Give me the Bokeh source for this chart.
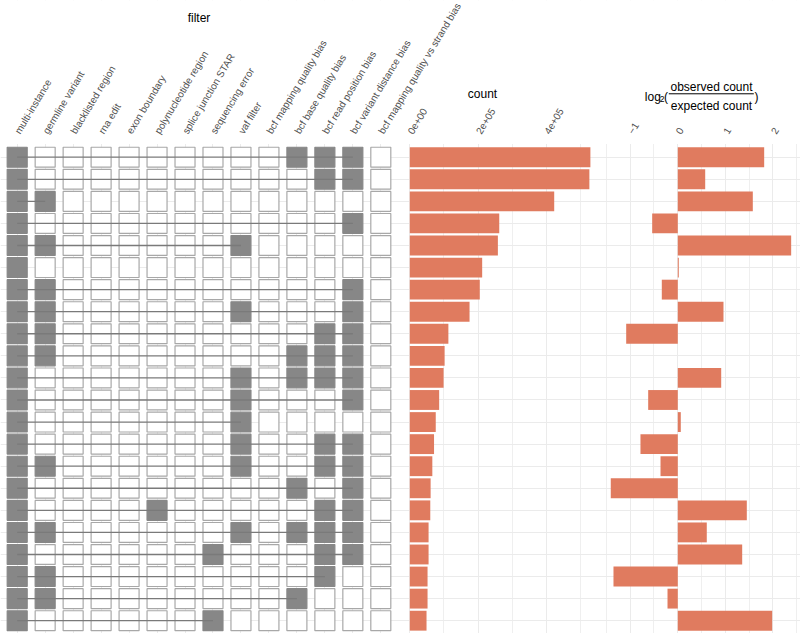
import math
from bokeh.plotting import figure
from bokeh.models import Range1d, LinearAxis, FixedTicker, Grid, Label, Arrow, BoxAnnotation
from bokeh.embed import file_html
from bokeh.resources import INLINE

# ---------------- data ----------------
filters = ["multi-instance", "germline variant", "blacklisted region", "rna edit",
           "exon boundary", "polynucleotide region", "splice junction STAR",
           "sequencing error", "vaf filter", "bcf mapping quality bias",
           "bcf base quality bias", "bcf read position bias",
           "bcf variant distance bias", "bcf mapping quality vs strand bias"]

# one string per intersection (top to bottom), one character per filter
membership = ["10000000001110", "10000000000110", "11000000000000", "10000000000010",
              "11000000100000", "10000000000000", "11000000000010", "11000000100010",
              "11000000000110", "11000000001110", "10000000101110", "10000000100010",
              "10000000100000", "10000000100110", "11000000100110", "10000000001010",
              "10000100000110", "11000000101110", "10000001000110", "11000000000100",
              "11000000001000", "10000001000000"]

counts = [529000, 526000, 423000, 262000, 258000, 212000, 205000, 175000, 113000, 102000,
          99000, 86000, 76000, 71000, 66000, 61000, 60000, 55000, 55000, 52000, 52000, 49000]

log2_ratio = [1.815, 0.576, 1.576, -0.538, 2.382, 0.021, -0.336, 0.96, -1.084, 0.0,
              0.912, -0.622, 0.063, -0.784, -0.363, -1.408, 1.45, 0.609, 1.353, -1.351,
              -0.216, 1.983]

count_ticks = [0, 200000, 400000]
count_minor = [100000, 300000, 500000]
log2_ticks = [-1, 0, 1, 2]
log2_minor = [-1.5, -0.5, 0.5, 1.5, 2.5]

# ---------------- styles ----------------
FONT = "Liberation Sans"
BAR = "#E07B5F"
ON = "#878787"
GRID = "#EBEBEB"

rows = list(range(1, len(membership) + 1))
cols = list(range(1, len(filters) + 1))
panel_top = 0.4

p = figure(width=800, height=633, output_backend="svg", toolbar_location=None,
           x_range=Range1d(0.403, 29.005), y_range=Range1d(22.58, -6.10),
           x_axis_location=None, y_axis_location=None,
           min_border_top=0, min_border_left=0, min_border_right=0, min_border_bottom=0)
p.extra_x_ranges = {"count": Range1d(-1198890, 1144410), "log2": Range1d(-14.229, 2.578)}
p.outline_line_color = None
p.background_fill_color = "white"
p.border_fill_color = "white"
p.center = [r for r in p.center if not isinstance(r, Grid)]

# grids
p.add_layout(Grid(dimension=1, ticker=FixedTicker(ticks=rows),
                  grid_line_color=GRID, grid_line_width=1), "center")
p.add_layout(Grid(dimension=0, ticker=FixedTicker(ticks=cols),
                  grid_line_color=GRID, grid_line_width=1), "center")
p.add_layout(Grid(dimension=0, x_range_name="count",
                  ticker=FixedTicker(ticks=count_ticks, minor_ticks=count_minor),
                  grid_line_color=GRID, grid_line_width=1,
                  minor_grid_line_color=GRID, minor_grid_line_width=0.8), "center")
p.add_layout(Grid(dimension=0, x_range_name="log2",
                  ticker=FixedTicker(ticks=log2_ticks, minor_ticks=log2_minor),
                  grid_line_color=GRID, grid_line_width=1,
                  minor_grid_line_color=GRID, minor_grid_line_width=0.8), "center")
# keep the header area above the panels free of grid lines
p.add_layout(BoxAnnotation(bottom=panel_top, top=p.y_range.end, fill_color="white",
                           fill_alpha=1, line_color=None, level="underlay"), "center")

# matrix tiles
tx, ty, tfill, tline = [], [], [], []
sx0, sx1, sy = [], [], []
for r, m in zip(rows, membership):
    on = [c for c, f in zip(cols, m) if f == "1"]
    sx0.append(min(on)); sx1.append(max(on)); sy.append(r)
    for c, f in zip(cols, m):
        tx.append(c); ty.append(r)
        tfill.append(ON if f == "1" else "white")
        tline.append(ON if f == "1" else "#A8A8A8")
p.rect(x=tx, y=ty, width=0.715, height=0.9, fill_color=tfill, line_color=tline, line_width=1.2)
p.segment(x0=sx0, y0=sy, x1=sx1, y1=sy, line_color="#7A7A7A", line_width=1.3)

# bars
p.hbar(y=rows, left=0, right=counts, height=0.9, x_range_name="count",
       fill_color=BAR, line_color=None)
p.hbar(y=rows, left=0, right=log2_ratio, height=0.9, x_range_name="log2",
       fill_color=BAR, line_color=None)

# axes (all drawn at the top of the panels)
def style_axis(ax):
    ax.axis_line_color = None
    ax.major_tick_line_color = None
    ax.minor_tick_line_color = None
    ax.major_tick_out = 0
    ax.major_tick_in = 0
    ax.minor_tick_out = 0
    ax.minor_tick_in = 0
    ax.major_label_orientation = math.radians(59)
    ax.major_label_standoff = 11
    ax.major_label_text_font = FONT
    ax.major_label_text_font_size = "10px"
    ax.major_label_text_color = "#4D4D4D"

ax_f = LinearAxis(ticker=FixedTicker(ticks=cols),
                  major_label_overrides={c: f for c, f in zip(cols, filters)},
                  fixed_location=panel_top)
ax_c = LinearAxis(x_range_name="count", ticker=FixedTicker(ticks=count_ticks),
                  major_label_overrides={v: f"{v:.0e}" for v in count_ticks},
                  fixed_location=panel_top)
ax_l = LinearAxis(x_range_name="log2", ticker=FixedTicker(ticks=log2_ticks),
                  major_label_overrides={v: str(v).replace("-", "\u2212") for v in log2_ticks},
                  fixed_location=panel_top)
for ax in (ax_f, ax_c, ax_l):
    style_axis(ax)
    p.add_layout(ax, "above")

# titles
def lab(text, x, y, size="12px", align="left", baseline="alphabetic", rng="default"):
    p.add_layout(Label(x=x, y=y, text=text, text_font=FONT, text_font_size=size,
                       text_align=align, text_baseline=baseline, text_color="black",
                       x_range_name=rng))

lab("filter", (cols[0] + cols[-1]) / 2, -5.307, align="center", baseline="middle")
lab("count", 213000, -1.873, align="center", baseline="middle", rng="count")
lab("log", -0.693, -1.750, rng="log2")
lab("2", -0.378, -1.637, size="8.5px", rng="log2")
lab("(", -0.290, -1.750, rng="log2")
lab("observed count", 0.708, -2.172, align="center", rng="log2")
lab("expected count", 0.708, -1.329, align="center", rng="log2")
lab(")", 1.611, -1.750, rng="log2")
p.add_layout(Arrow(end=None, x_start=-0.189, y_start=-1.873, x_end=1.597, y_end=-1.873,
                   x_range_name="log2", line_color="black", line_width=1))

open("out.html", "w").write(file_html(p, INLINE))
